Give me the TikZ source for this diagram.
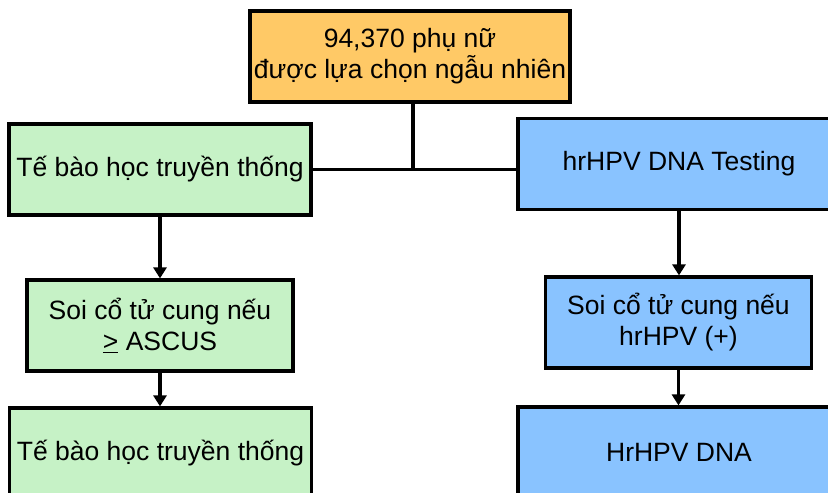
\documentclass[tikz,border=0pt]{standalone}
\usepackage{fontspec}
\setmainfont{Liberation Sans}
\usepackage{xcolor}
\usetikzlibrary{arrows.meta}

\definecolor{boxorange}{HTML}{FFC966}
\definecolor{boxgreen}{HTML}{C6F2C6}
\definecolor{boxblue}{HTML}{89C3FF}

\begin{document}
\begin{tikzpicture}[
      x = 1pt, y = -1pt,
      every node/.style = {draw, rectangle, line width = 3.2pt, align = center,
            font = \fontsize{26.5}{31}\selectfont, inner sep = 0pt},
      topbox/.style = {fill = boxorange, minimum width = 320pt, minimum height = 91pt},
      cytobox/.style = {fill = boxgreen, minimum width = 302pt, minimum height = 91pt},
      hpvbox/.style = {fill = boxblue, minimum width = 322pt, minimum height = 91pt},
      smallbox/.style = {minimum width = 266pt, minimum height = 91pt},
      link/.style = {line width = 3.5pt},
      flow/.style = {line width = 3.5pt, -{Triangle[width = 13pt, length = 11pt]}}
      ]
      \useasboundingbox (0,0) rectangle (828,493);
      % top
      \node[topbox] (women) at (410,56.5) {94,370 phụ nữ\\được lựa chọn ngẫu nhiên};
      % left branch
      \node[cytobox] (cyto) at (160,169.5) {Tế bào học truyền thống};
      \node[cytobox, smallbox] (colpoL) at (160,325.5) {Soi cổ tử cung nếu\\\underline{>} ASCUS};
      \node[cytobox] (cytoEnd) at (160.5,453.5) {Tế bào học truyền thống};
      % right branch
      \node[hpvbox] (hpv) at (679,164) {hrHPV DNA Testing};
      \node[hpvbox, smallbox] (colpoR) at (678.5,322.5) {Soi cổ tử cung nếu\\hrHPV (+)};
      \node[hpvbox] (hpvEnd) at (679,452.5) {HrHPV DNA};
      \coordinate (split) at (413,169.5);
      \draw[link] (women.south -| split) -- (split);
      \draw[link] (cyto.east) -- (split) -- (split -| hpv.west);
      \draw[flow] (cyto.south) -- (colpoL.north);
      \draw[flow] (colpoL.south) -- (cytoEnd.north -| colpoL.south);
      \draw[flow] (hpv.south) -- (colpoR.north -| hpv.south);
      \draw[flow] (colpoR.south) -- (hpvEnd.north -| colpoR.south);
    \end{tikzpicture}
\end{document}
